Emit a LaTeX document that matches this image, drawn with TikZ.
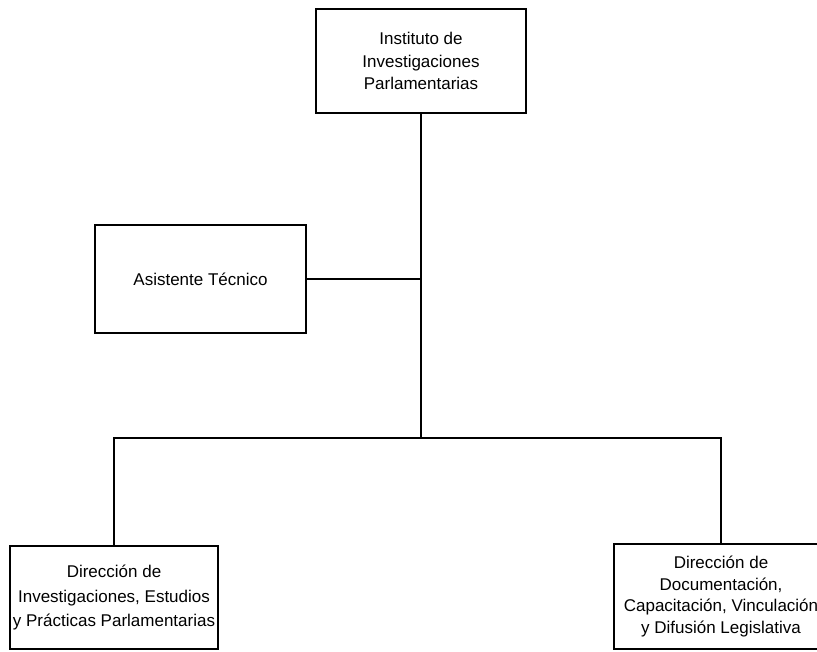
\documentclass[tikz,border=0pt]{standalone}
\usepackage{fontspec}
\setmainfont{Liberation Sans}

\begin{document}
\begin{tikzpicture}
		% We need to define the drawing style
		[x=1pt, y=-1pt,
		unit/.style={draw=black, line width=1.3pt, align=center, inner sep=0pt,
			font=\fontsize{17}{22.5}\selectfont},
		links/.style={black, line width=1.3pt}]
	
		\useasboundingbox (0,0) rectangle (817,651);
		
		% The institute on top
		\node[unit, minimum width=210pt, minimum height=104pt] (I) at (421,61)
			{Instituto de\\Investigaciones\\Parlamentarias};
		
		% The assistant on the side
		\node[unit, minimum width=211pt, minimum height=108pt] (AT) at (200.5,279)
			{Asistente T\'ecnico};
		
		% The two directions below
		\node[unit, minimum width=208pt, minimum height=103pt, font=\fontsize{17}{24.5}\selectfont] (DI) at (114,597.5)
			{Direcci\'on de\\Investigaciones, Estudios\\y Pr\'acticas Parlamentarias};
		\node[unit, minimum width=214pt, minimum height=105pt, font=\fontsize{17}{21.7}\selectfont] (DD) at (721,596.5)
			{Direcci\'on de\\Documentaci\'on,\\Capacitaci\'on, Vinculaci\'on\\y Difusi\'on Legislativa};
		
		% Now the lines between them
		\coordinate (B) at (421,438);
		\draw[links] (I.south) -- (B);
		\draw[links] (AT.east) -- (AT.east -| I.south);
		\draw[links] (DI.north) |- (B) -| (DD.north);
	\end{tikzpicture}
\end{document}
